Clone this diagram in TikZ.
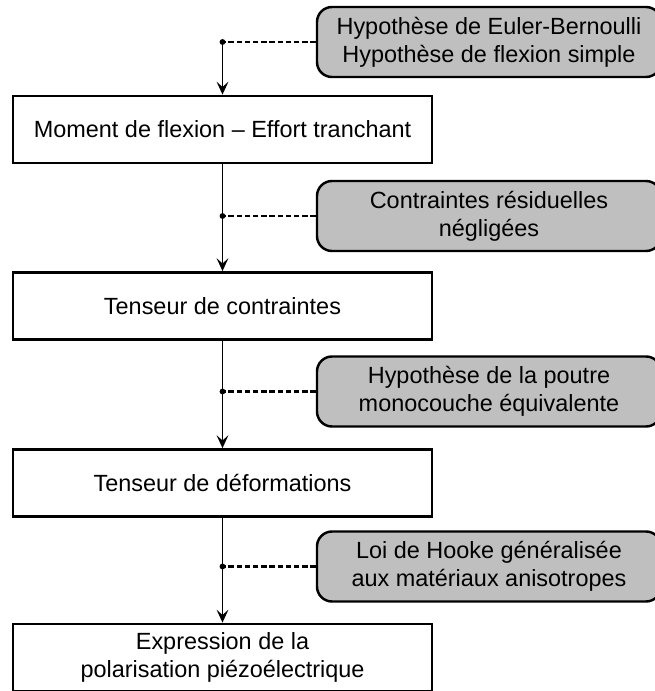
\documentclass[tikz,border=0pt]{standalone}
\usepackage{fontspec}
\setmainfont{Liberation Sans}
\usetikzlibrary{arrows.meta}
\tikzstyle{every picture} = [x=0.03cm, y=-0.03cm]
\tikzstyle{step box} = [draw, line width=2.3pt, minimum width=12.57cm, minimum height=2.01cm, align=center, font=\fontsize{20}{23.8}\selectfont]
\tikzstyle{hyp box} = [draw, line width=2.1pt, rounded corners=0.45cm, fill=gray!50, minimum width=10.32cm, minimum height=2.1cm, align=center, font=\fontsize{20}{23.8}\selectfont]
\tikzstyle{flow} = [line width=1.6pt, -{Stealth[length=11pt, width=10pt, inset=4.5pt]}]
\tikzstyle{hyp line} = [line width=1.8pt, dash pattern=on 4.5pt off 2.5pt]

\begin{document}
\begin{tikzpicture}
            \useasboundingbox (0,0) rectangle (655,691);

            \node (box 1) at(222.5,129.5) [step box] {Moment de flexion -- Effort tranchant};
            \node (box 2) at(222.5,306) [step box] {Tenseur de contraintes};
            \node (box 3) at(222.5,483) [step box] {Tenseur de d\'eformations};
            \node (box 4) at(222.5,657.5) [step box] {Expression de la\\polarisation pi\'ezo\'electrique};

            \node (hyp 1) at(489,42) [hyp box] {Hypoth\`ese de Euler-Bernoulli\\Hypoth\`ese de flexion simple};
            \node (hyp 2) at(489,216) [hyp box] {Contraintes r\'esiduelles\\n\'eglig\'ees};
            \node (hyp 3) at(489,391.5) [hyp box] {Hypoth\`ese de la poutre\\monocouche \'equivalente};
            \node (hyp 4) at(489,566.5) [hyp box] {Loi de Hooke g\'en\'eralis\'ee\\aux mat\'eriaux anisotropes};

            \coordinate (dot 1) at (box 1 |- hyp 1);
            \coordinate (dot 2) at (box 1 |- hyp 2);
            \coordinate (dot 3) at (box 1 |- hyp 3);
            \coordinate (dot 4) at (box 1 |- hyp 4);

            \draw[flow] (dot 1) -- (box 1);
            \draw[flow] (box 1) -- (box 2);
            \draw[flow] (box 2) -- (box 3);
            \draw[flow] (box 3) -- (box 4);

            \foreach \i in {1,...,4}
                \draw[hyp line] (hyp \i) -- (dot \i);
            \foreach \i in {1,...,4}
                \fill (dot \i) circle (2.5pt);
\end{tikzpicture}
\end{document}
